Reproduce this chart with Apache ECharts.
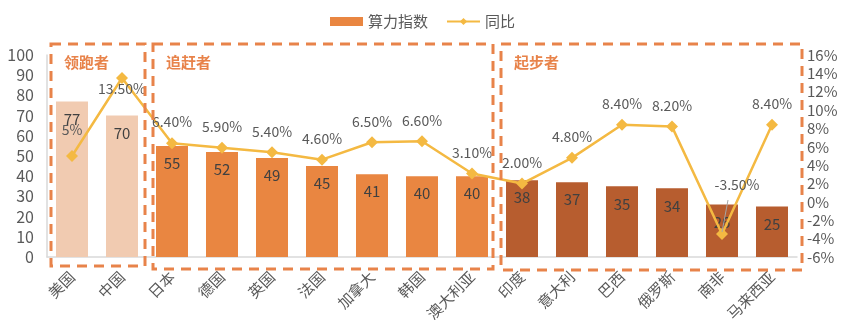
<!DOCTYPE html>
<html>
<head>
<meta charset="utf-8">
<script src="https://cdn.jsdelivr.net/npm/echarts@6/dist/echarts.min.js"></script>
<style>html,body{margin:0;padding:0;background:#fff}#c{width:845px;height:324px}</style>
</head>
<body>
<div id="c"></div>
<script>
const categories = ['美国','中国','日本','德国','英国','法国','加拿大','韩国','澳大利亚','印度','意大利','巴西','俄罗斯','南非','马来西亚'];
const indexValues = [77,70,55,52,49,45,41,40,40,38,37,35,34,26,25];
const yoyValues = [5.0,13.5,6.4,5.9,5.4,4.6,6.5,6.6,3.1,2.0,4.8,8.4,8.2,-3.5,8.4];
const yoyLabels = ['5%','13.50%','6.40%','5.90%','5.40%','4.60%','6.50%','6.60%','3.10%','2.00%','4.80%','8.40%','8.20%','-3.50%','8.40%'];
const groups = [
  {name:'领跑者', from:0, to:1, color:'#F1CBB1'},
  {name:'追赶者', from:2, to:8, color:'#E98641'},
  {name:'起步者', from:9, to:14, color:'#B75D2F'}
];
const leftTicks = {min:0, max:100, interval:10};
const rightTicks = {min:-6, max:16, interval:2};

const font = "'Noto Sans CJK SC', 'Liberation Sans', sans-serif";
const grey = '#595959';
const boxColor = '#E8834A';

function groupColor(i){
  for (const g of groups) if (i>=g.from && i<=g.to) return g.color;
  return '#E98641';
}

const barData = indexValues.map((v,i)=>({value:v, itemStyle:{color:groupColor(i)}}));
const lineData = yoyValues.map((v,i)=>{
  const d = {value:v};
  if (i===0) d.label = {distance:13};
  return d;
});

const chart = echarts.init(document.getElementById('c'), null, {renderer:'canvas'});
const option = {
  animation:false,
  textStyle:{fontFamily:font},
  legend:{
    top:9, left:'center', itemGap:18,
    itemWidth:33, itemHeight:9,
    textStyle:{color:grey, fontSize:15, fontFamily:font},
    data:[{name:'算力指数', icon:'rect'}, {name:'同比'}]
  },
  grid:{left:47, right:48, top:55, bottom:67, containLabel:false},
  xAxis:{
    type:'category', data:categories,
    axisLine:{lineStyle:{color:'#D9D9D9', width:1.5}},
    axisTick:{show:false},
    axisLabel:{rotate:45, color:grey, fontSize:15, fontFamily:font, margin:17, interval:0}
  },
  yAxis:[
    {type:'value', min:leftTicks.min, max:leftTicks.max, interval:leftTicks.interval,
     axisLine:{show:true, lineStyle:{color:'#D9D9D9', width:1.5}},
     splitLine:{show:false}, axisTick:{show:false},
     axisLabel:{color:grey, fontSize:16, fontFamily:font, margin:13}},
    {type:'value', min:rightTicks.min, max:rightTicks.max, interval:rightTicks.interval,
     axisLine:{show:false}, splitLine:{show:false}, axisTick:{show:false},
     axisLabel:{color:grey, fontSize:15, fontFamily:font, margin:10, formatter:'{value}%'}}
  ],
  series:[
    {name:'算力指数', type:'bar', data:barData, barWidth:'64%', yAxisIndex:0,
     itemStyle:{color:'#E98641'},
     label:{show:true, position:'insideTop', distance:10, color:'#404040', fontSize:15, fontFamily:font}},
    {name:'同比', type:'line', data:lineData, yAxisIndex:1,
     symbol:'diamond', symbolSize:12,
     lineStyle:{color:'#F4B942', width:2.5},
     itemStyle:{color:'#F4B942'},
     label:{show:true, position:'top', distance:8, color:grey, fontSize:14, fontFamily:font,
       formatter:p=>yoyLabels[p.dataIndex]},
     labelLine:{show:false},
     labelLayout:function(p){
       if (p.dataIndex===1) return {dy:32};
       if (p.dataIndex===13) return {dx:15, dy:-28};
       return {};
     }
    }
  ]
};
chart.setOption(option);

// dashed group boxes, positioned from category axis
const insetL = [4,6,4], insetR = [2,4,-5], bottoms = [266,269,270];
const c0 = chart.convertToPixel({xAxisIndex:0}, categories[0]);
const c1 = chart.convertToPixel({xAxisIndex:0}, categories[1]);
const half = (c1-c0)/2;
const graphics = [];
groups.forEach((g,k)=>{
  const x1 = chart.convertToPixel({xAxisIndex:0}, categories[g.from]) - half + insetL[k];
  const x2 = chart.convertToPixel({xAxisIndex:0}, categories[g.to]) + half - insetR[k];
  const top = 44;
  graphics.push({type:'rect', shape:{x:x1, y:top, width:x2-x1, height:bottoms[k]-top},
    style:{fill:'none', stroke:boxColor, lineWidth:3, lineDash:[10,7]}, z:10, silent:true});
  graphics.push({type:'text', x:x1+13, y:62, style:{text:g.name, fill:boxColor, font:'bold 15px '+font, textVerticalAlign:'middle'}, z:10});
});
// leader line for the moved South Africa label
const sa = chart.convertToPixel({xAxisIndex:0, yAxisIndex:1}, [categories[13], yoyValues[13]]);
graphics.push({type:'line', shape:{x1:sa[0]+6, y1:sa[1]-34, x2:sa[0], y2:sa[1]-2},
  style:{stroke:'#A6A6A6', lineWidth:1}, z:20, silent:true});
chart.setOption({graphic:graphics});
</script>
</body>
</html>
